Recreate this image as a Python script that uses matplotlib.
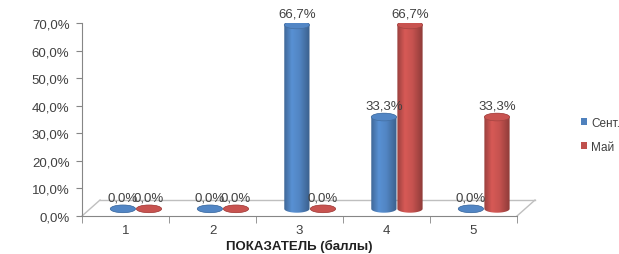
import numpy as np
import matplotlib.pyplot as plt
from matplotlib.patches import Polygon, Ellipse, Patch
from matplotlib.colors import to_rgb

categories = ['1', '2', '3', '4', '5']
sent = [0.0, 0.0, 66.7, 33.3, 0.0]
may = [0.0, 0.0, 0.0, 66.7, 33.3]
series_names = ['Сент.', 'Май']
y_ticks = [0, 10, 20, 30, 40, 50, 60, 70]
x_title = 'ПОКАЗАТЕЛЬ (баллы)'

BLUE = '#4F81BD'
RED = '#C0504D'
AXIS = '#868686'
FLOOR = '#BFBFBF'
TXT = '#404040'
FS = 9.5

plt.rcParams['font.family'] = ['Liberation Sans', 'DejaVu Sans']

# fake 3d depth of the floor (category units / percent units)
DX, DY = 0.207, 5.8
BASE = 2.6      # bars stand in the middle of the floor depth
W = 0.29        # cylinder diameter
EH = 2.8        # ellipse height in percent units


def scale(color, k):
    c = np.array(to_rgb(color)) * k
    return np.clip(c, 0, 1)


def shade(color):
    pos = [0.0, 0.3, 0.6, 1.0]
    fac = [0.8, 1.12, 1.03, 0.74]
    xs = np.linspace(0, 1, 60)
    k = np.interp(xs, pos, fac)
    return np.array([[scale(color, v) for v in k]])


def cylinder(ax, cx, h, color, z):
    t = np.linspace(np.pi, 2 * np.pi, 40)
    bottom = np.column_stack([cx + W / 2 * np.cos(t), BASE + EH / 2 * np.sin(t)])
    t2 = np.linspace(0, np.pi, 40)
    top = np.column_stack([cx + W / 2 * np.cos(t2), BASE + h + EH / 2 * np.sin(t2)])
    outline = Polygon(np.vstack([bottom, top]), closed=True, facecolor='none',
                      edgecolor='none', zorder=z)
    ax.add_patch(outline)
    im = ax.imshow(shade(color), extent=[cx - W / 2, cx + W / 2, BASE - EH / 2, BASE + h + EH / 2],
                   aspect='auto', interpolation='bilinear', zorder=z)
    im.set_clip_path(outline)
    ax.add_patch(Ellipse((cx, BASE + h), W, EH, facecolor=scale(color, 1.04),
                         edgecolor=scale(color, 0.85), lw=0.5, zorder=z + 0.1))


fig = plt.figure(figsize=(6.19, 2.55), dpi=100)
ax = fig.add_axes([82 / 619, 38 / 255, 458 / 619, 193 / 255])

x = np.arange(1, len(categories) + 1)
z = 3
for i in range(len(categories)):
    for vals, off, col in [(sent, -0.03, BLUE), (may, 0.27, RED)]:
        cx = x[i] + off
        cylinder(ax, cx, vals[i], col, z)
        ax.text(cx, BASE + vals[i] + EH / 2 + 0.5, f'{vals[i]:.1f}%'.replace('.', ','),
                ha='center', va='bottom', color=TXT, fontsize=FS, zorder=20)
        z += 1

# floor
x0, x1 = 0.5, len(categories) + 0.5
ax.plot([x0 + DX, x1 + DX], [DY, DY], color=FLOOR, lw=1, zorder=1, clip_on=False)
ax.plot([x0, x0 + DX], [0, DY], color=FLOOR, lw=1, zorder=1, clip_on=False)
ax.plot([x1, x1 + DX], [0, DY], color=FLOOR, lw=1, zorder=1, clip_on=False)

ax.set_xlim(0.5, 0.5 + 458 / 87)
ax.set_ylim(0, 70)

for s in ['top', 'right']:
    ax.spines[s].set_visible(False)
ax.spines['left'].set_color(AXIS)
ax.spines['bottom'].set_color(AXIS)
ax.spines['bottom'].set_bounds(x0, x1)

ax.set_yticks(y_ticks)
ax.set_yticklabels([f'{v:.1f}%'.replace('.', ',') for v in y_ticks])
ax.tick_params(axis='y', length=4, color=AXIS, pad=5, labelcolor=TXT, labelsize=FS)
ax.set_xticks(x)
ax.set_xticklabels(categories)
ax.set_xticks(np.arange(x0, x1 + 0.01, 1), minor=True)
ax.tick_params(axis='x', which='major', length=0, pad=6, labelcolor=TXT, labelsize=FS)
ax.tick_params(axis='x', which='minor', length=5, color=AXIS)

fig.text(299 / 619, 1 - 246 / 255, x_title, ha='center', va='center',
         fontweight='bold', fontsize=FS, color='#202020')

handles = [Patch(facecolor=BLUE), Patch(facecolor=RED)]
fig.legend(handles, series_names, loc='center left', bbox_to_anchor=(575 / 619, 1 - 136 / 255),
           frameon=False, borderpad=0, handlelength=0.55, handleheight=0.55, handletextpad=0.3,
           labelspacing=1.0, labelcolor=TXT, fontsize=8.5)

fig.savefig('out.png', dpi=100)
